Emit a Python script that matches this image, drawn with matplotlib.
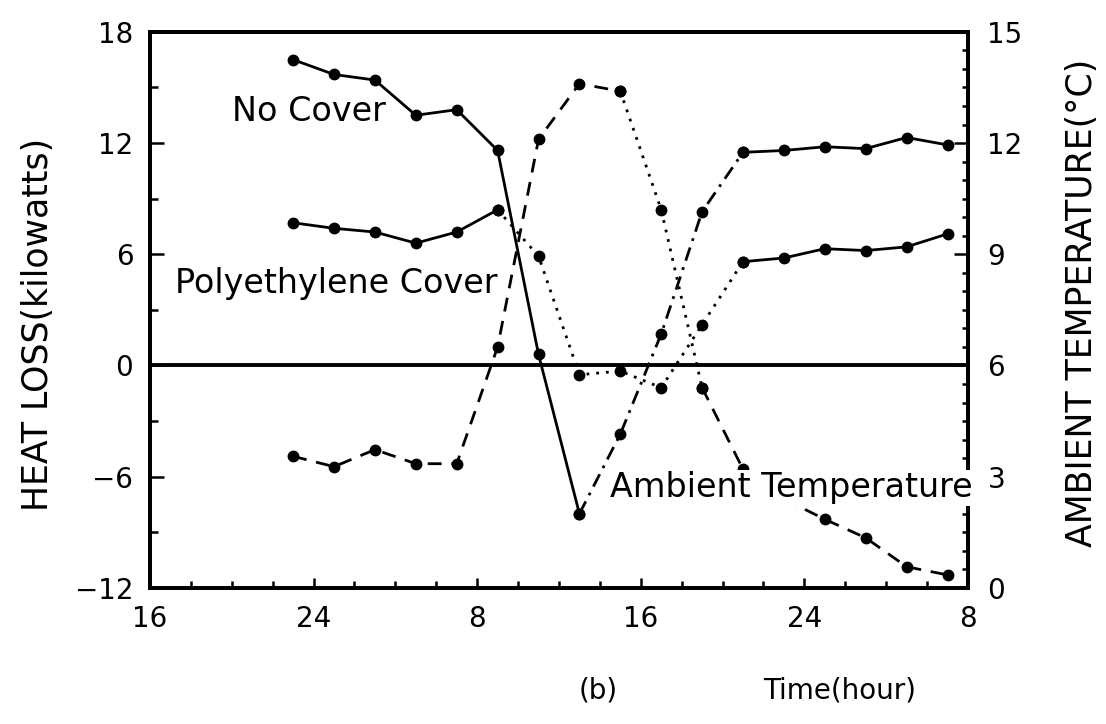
import matplotlib
matplotlib.use('Agg')
import matplotlib.pyplot as plt
from matplotlib.ticker import MultipleLocator, FixedLocator

# time in hours since start of day 1 (16 = 16:00 day 1, 56 = 8:00 day 3)
hours = [23, 25, 27, 29, 31, 33, 35, 37, 39, 41, 43, 45, 47, 49, 51, 53, 55]

# heat loss, kW
no_cover = [16.5, 15.7, 15.4, 13.5, 13.8, 11.6, 0.6, -8.0, -3.7, 1.7, 8.3,
            11.5, 11.6, 11.8, 11.7, 12.3, 11.9]
poly_cover = [7.7, 7.4, 7.2, 6.6, 7.2, 8.4, 5.9, -0.5, -0.3, -1.2, 2.2,
              5.6, 5.8, 6.3, 6.2, 6.4, 7.1]

# ambient temperature, C
ambient = [3.55, 3.27, 3.73, 3.35, 3.35, 6.5, 12.1, 13.6, 13.4, 10.2, 5.4,
           3.2, 2.4, 1.85, 1.35, 0.57, 0.35]

xticks = [16, 24, 32, 40, 48, 56]
xticklabels = ['16', '24', '8', '16', '24', '8']

DASHED = (0, (5, 3.5))
DOTTED = (0, (1.0, 2.5))
DASHDOT = (0, (5, 2.5, 1.0, 2.5))


def seg(ax, y, i0, i1, ls):
    ax.plot(hours[i0:i1 + 1], y[i0:i1 + 1], color='black', lw=2.0,
            linestyle=ls, marker='o', ms=7.5, mfc='black', mec='black', zorder=2)


fig = plt.figure(figsize=(11.06, 7.24), dpi=100)
ax = fig.add_axes([0.1356, 0.188, 0.7396, 0.768])
ax2 = ax.twinx()

# no cover
seg(ax, no_cover, 0, 7, '-')
seg(ax, no_cover, 7, 11, DASHDOT)
seg(ax, no_cover, 11, 16, '-')
# polyethylene cover
seg(ax, poly_cover, 0, 5, '-')
seg(ax, poly_cover, 5, 11, DOTTED)
seg(ax, poly_cover, 11, 16, '-')
# ambient temperature (right axis)
seg(ax2, ambient, 0, 8, DASHED)
seg(ax2, ambient, 8, 10, DOTTED)
seg(ax2, ambient, 10, 16, DASHED)

ax.axhline(0, color='black', lw=2.8)

ax.set_xlim(16, 56)
ax.set_ylim(-12, 18)
ax2.set_ylim(0, 15)

ax.xaxis.set_major_locator(FixedLocator(xticks))
ax.set_xticklabels(xticklabels)
ax.xaxis.set_minor_locator(MultipleLocator(2))
ax.yaxis.set_major_locator(MultipleLocator(6))
ax.yaxis.set_minor_locator(MultipleLocator(3))
ax2.yaxis.set_major_locator(MultipleLocator(3))
ax2.yaxis.set_minor_locator(MultipleLocator(0.5))

ax.tick_params(axis='both', which='both', direction='in', labelsize=20, width=1.8)
ax.tick_params(axis='x', which='major', length=7, pad=12)
ax.tick_params(axis='x', which='minor', length=5)
ax.tick_params(axis='y', which='major', length=10, pad=12)
ax.tick_params(axis='y', which='minor', length=6)
ax2.tick_params(axis='y', which='both', direction='in', labelsize=20, width=1.8, pad=14)
ax2.tick_params(axis='y', which='major', length=10)
ax2.tick_params(axis='y', which='minor', length=4)

for a in (ax, ax2):
    for s in a.spines.values():
        s.set_linewidth(2.8)

ax.set_ylabel('HEAT LOSS(kilowatts)', fontsize=25)
ax.yaxis.set_label_coords(-0.116, 0.473)
ax2.set_ylabel('AMBIENT TEMPERATURE(°C)', fontsize=25)
ax2.yaxis.set_label_coords(1.119, 0.513)

ax.text(20.0, 13.7, 'No Cover', fontsize=24, va='center', ha='left')
ax.text(17.2, 4.4, 'Polyethylene Cover', fontsize=24, va='center', ha='left')
ax2.text(38.5, 2.7, 'Ambient Temperature', fontsize=24, va='center', ha='left',
         zorder=5, bbox=dict(facecolor='white', edgecolor='none', pad=1))

fig.text(598 / 1106, 1 - 690 / 724, '(b)', fontsize=20, ha='center', va='center')
fig.text(840 / 1106, 1 - 690 / 724, 'Time(hour)', fontsize=20, ha='center', va='center')

fig.savefig('out.png', dpi=100)
